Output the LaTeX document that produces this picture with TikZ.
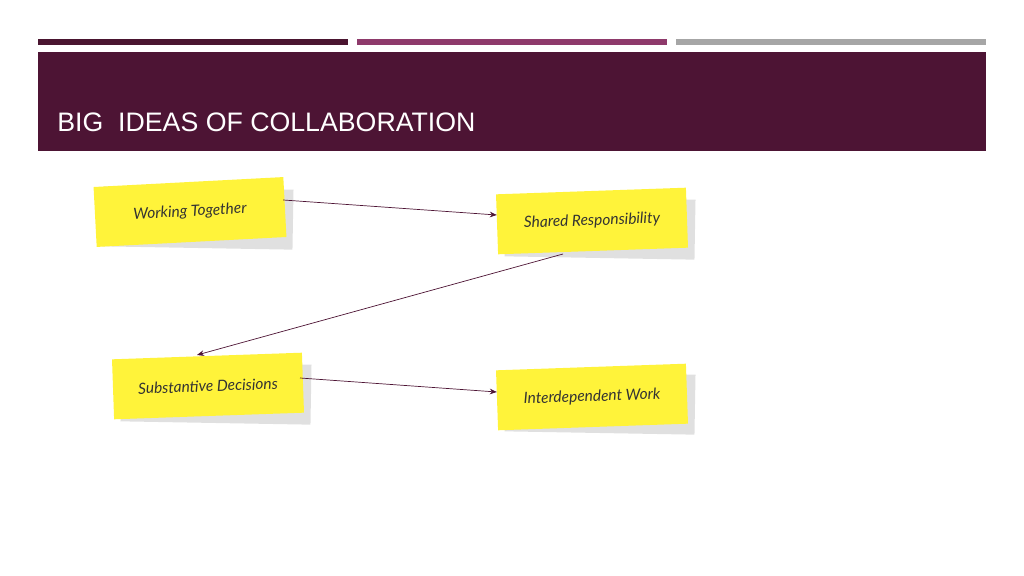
\documentclass[tikz,border=0pt]{standalone}
\usepackage{fontspec}
\setmainfont{Liberation Sans}
\newfontfamily\hand{Lato}
\usetikzlibrary{arrows.meta}
\definecolor{plum}{HTML}{4D1434}
\definecolor{plumbar}{HTML}{4A1530}
\definecolor{magbar}{HTML}{8E3A6B}
\definecolor{graybar}{HTML}{A6A6A6}
\definecolor{sticky}{HTML}{FFF33A}
\tikzset{
  note/.style={fill=sticky, minimum width=190*0.025cm, minimum height=60*0.025cm, inner sep=0pt,
    font=\hand\itshape\fontsize{11}{13}\selectfont, text=black!80},
  shadowbox/.style={fill=black!12, minimum width=190*0.025cm, minimum height=60*0.025cm, inner sep=0pt},
  link/.style={draw=plum, -{Stealth[length=5pt,width=4pt]}, line width=0.5pt}
}
\begin{document}
\begin{tikzpicture}[x=0.025cm,y=-0.025cm]
\useasboundingbox (0,0) rectangle (1024,576);
\fill[plumbar] (38,39) rectangle (348,45);
\fill[magbar] (357,39) rectangle (667,45);
\fill[graybar] (676,39) rectangle (986,45);
\fill[plum] (38,52) rectangle (986,151);
\node[anchor=base west, text=white, font=\fontsize{19}{22}\selectfont, inner sep=0pt] (title) at (57,132) {BIG\ \ IDEAS OF COLLABORATION};
% shadows
\node[shadowbox, rotate=-1] (s1) at (198,218) {};
\node[shadowbox, rotate=-1] (s2) at (600,228) {};
\node[shadowbox, rotate=-1] (s3) at (216,393) {};
\node[shadowbox, rotate=-1] (s4) at (600,403) {};
% notes
\node[note, rotate=3] (n1) at (190,212) {Working Together};
\node[note, rotate=2] (n2) at (592,221) {Shared Responsibility};
\node[note, rotate=2] (n3) at (208,386) {Substantive Decisions};
\node[note, rotate=2] (n4) at (592,397) {Interdependent Work};
\draw[link] (n1.east |- 0,200) ++(-2,0) coordinate (a1) -- (n2.west |- 0,215);
\draw[link] (563,254) coordinate (b1) -- (197,355) coordinate (b2);
\draw[link] (300,378) coordinate (c1) -- (n4.west |- 0,392);
\end{tikzpicture}
\end{document}
